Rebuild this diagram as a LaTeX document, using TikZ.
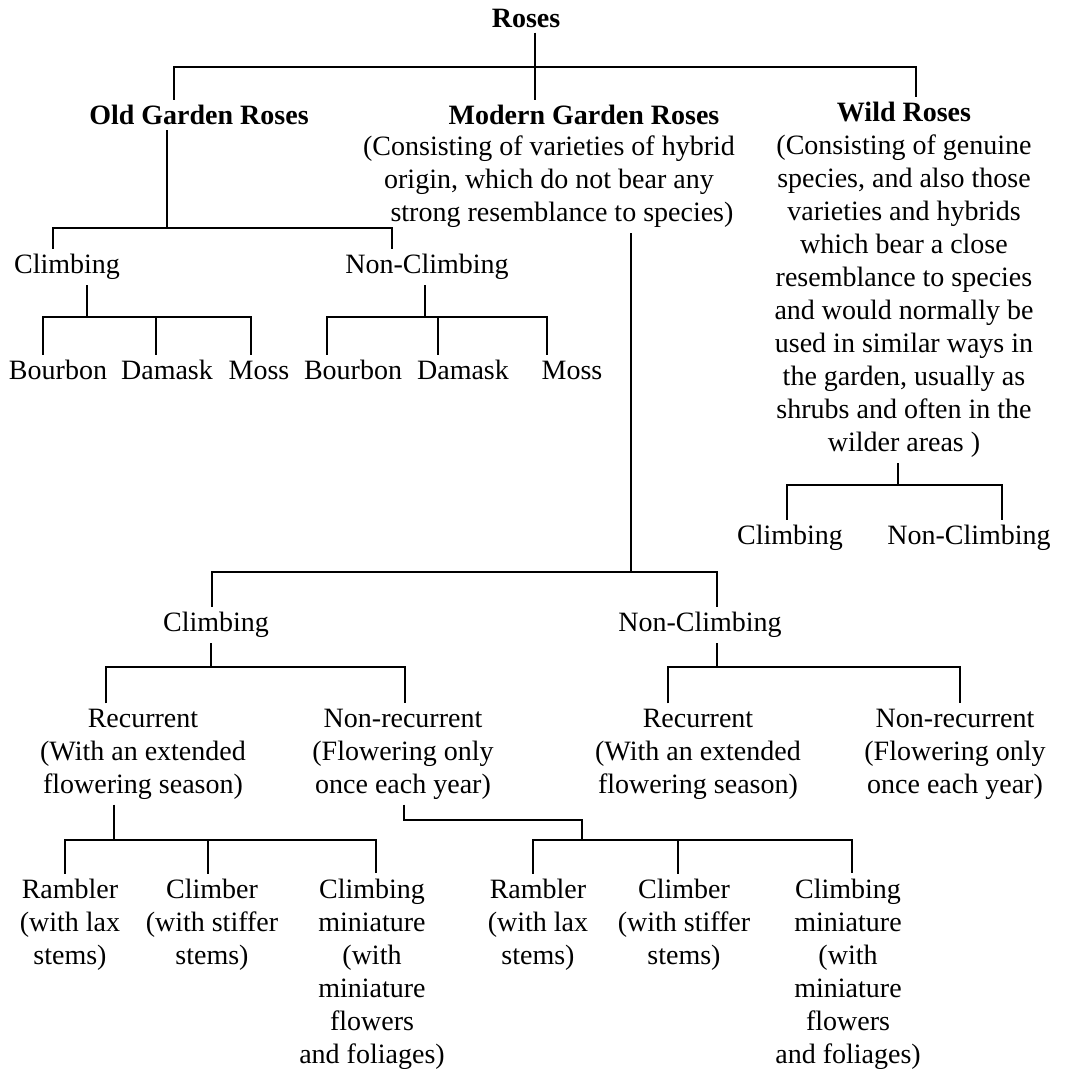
\documentclass[tikz,border=0pt]{standalone}
\usepackage{fontspec}
\setmainfont{Liberation Serif}
\begin{document}
\begin{tikzpicture}[x=0.5pt,y=-0.5pt,
  lbl/.style={font=\fontsize{14pt}{16.5pt}\selectfont, align=center, inner xsep=0pt, inner ysep=2.5pt},
  ttl/.style={lbl, font=\fontsize{14pt}{16.5pt}\selectfont\bfseries},
  link/.style={line width=1.2pt}]
\fill[white] (0,0) rectangle (1069,1069);
\useasboundingbox (0,0) rectangle (1069,1069);

% first level
\node[ttl] (roses)  at (526,18)  {Roses};
\node[ttl] (old)    at (199,115) {Old Garden Roses};
\node[ttl] (mtitle) at (584,115) {Modern Garden Roses};
\node[lbl] (mdesc)  at (549,182) {(Consisting of varieties of hybrid\\origin, which do not bear any\hspace*{16pt}\\\hspace*{13pt}strong resemblance to species)};
\node[lbl] (wild)   at (904,280) {\textbf{Wild Roses}\\(Consisting of genuine\\species, and also those\\varieties and hybrids\\which bear a close\\resemblance to species\\and would normally be\\used in similar ways in\\the garden, usually as\\shrubs and often in the\\wilder areas )};

% old garden roses
\node[lbl] (oc)  at (67,267)  {Climbing};
\node[lbl] (onc) at (427,267) {Non-Climbing};
\node[lbl] (ob1) at (58,370)  {Bourbon};
\node[lbl] (od1) at (167,370) {Damask};
\node[lbl] (om1) at (259,370) {Moss};
\node[lbl] (ob2) at (353,370) {Bourbon};
\node[lbl] (od2) at (463,370) {Damask};
\node[lbl] (om2) at (572,370) {Moss};

% wild roses
\node[lbl] (wc)  at (790,538) {Climbing};
\node[lbl] (wnc) at (969,538) {Non-Climbing};

% modern garden roses
\node[lbl] (mc)  at (216,625) {Climbing};
\node[lbl] (mnc) at (700,625) {Non-Climbing};
\node[lbl] (rec1)  at (143,754) {Recurrent\\(With an extended\\flowering season)};
\node[lbl] (nrec1) at (403,754) {Non-recurrent\\(Flowering only\\once each year)};
\node[lbl] (rec2)  at (698,754) {Recurrent\\(With an extended\\flowering season)};
\node[lbl] (nrec2) at (955,754) {Non-recurrent\\(Flowering only\\once each year)};

% climbing forms
\node[lbl] (ram1) at (70,925)  {Rambler\\(with lax\\stems)};
\node[lbl] (cli1) at (212,925) {Climber\\(with stiffer\\stems)};
\node[lbl] (cm1)  at (372,974) {Climbing\\miniature\\(with\\miniature\\flowers\\and foliages)};
\node[lbl] (ram2) at (538,925) {Rambler\\(with lax\\stems)};
\node[lbl] (cli2) at (684,925) {Climber\\(with stiffer\\stems)};
\node[lbl] (cm2)  at (848,974) {Climbing\\miniature\\(with\\miniature\\flowers\\and foliages)};

% connectors: roses
\draw[link] (roses.south -| 535,0) -- (mtitle.north -| 535,0);
\draw[link] (old.north -| 174,0) -- (174,67) -- (916,67) -- (wild.north -| 916,0);

% connectors: old garden roses
\draw[link] (old.south -| 167,0) -- (167,228);
\draw[link] (oc.north -| 53,0) -- (53,228) -- (392,228) -- (onc.north -| 392,0);
\draw[link] (oc.south -| 87,0) -- (87,317);
\draw[link] (ob1.north -| 43,0) -- (43,317) -- (251,317) -- (om1.north -| 251,0);
\draw[link] (156,317) -- (od1.north -| 156,0);
\draw[link] (onc.south -| 425,0) -- (425,317);
\draw[link] (ob2.north -| 327,0) -- (327,317) -- (547,317) -- (om2.north -| 547,0);
\draw[link] (438,317) -- (od2.north -| 438,0);

% connectors: wild roses
\draw[link] (wild.south -| 898,0) -- (898,485);
\draw[link] (wc.north -| 787,0) -- (787,485) -- (1002,485) -- (wnc.north -| 1002,0);

% connectors: modern garden roses
\draw[link] (mdesc.south -| 631,0) -- (631,572);
\draw[link] (mc.north -| 212,0) -- (212,572) -- (717,572) -- (mnc.north -| 717,0);
\draw[link] (mc.south -| 211,0) -- (211,667);
\draw[link] (rec1.north -| 106,0) -- (106,667) -- (405,667) -- (nrec1.north -| 405,0);
\draw[link] (mnc.south -| 717,0) -- (717,667);
\draw[link] (rec2.north -| 668,0) -- (668,667) -- (960,667) -- (nrec2.north -| 960,0);

% connectors: climbing forms
\draw[link] (rec1.south -| 114,0) -- (114,840);
\draw[link] (ram1.north -| 65,0) -- (65,840) -- (376,840) -- (cm1.north -| 376,0);
\draw[link] (208,840) -- (cli1.north -| 208,0);
\draw[link] (nrec1.south -| 404,0) -- (404,820) -- (582,820) -- (582,840);
\draw[link] (ram2.north -| 533,0) -- (533,840) -- (852,840) -- (cm2.north -| 852,0);
\draw[link] (678,840) -- (cli2.north -| 678,0);
\end{tikzpicture}
\end{document}
